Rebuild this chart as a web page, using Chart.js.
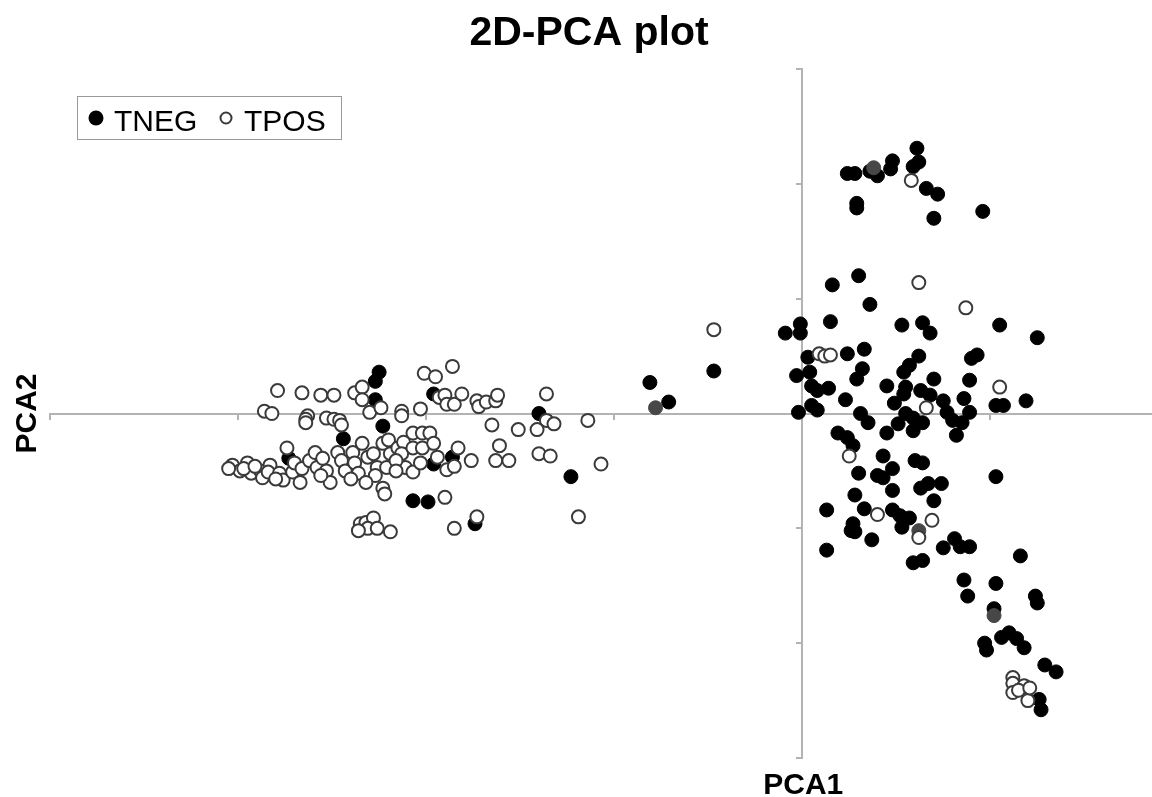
<!DOCTYPE html>
<html>
<head>
<meta charset="utf-8">
<title>2D-PCA plot</title>
<script src="https://cdn.jsdelivr.net/npm/chart.js@4/dist/chart.umd.min.js"></script>
<style>
  html, body { margin: 0; padding: 0; background: #fff; }
  #wrap { width: 1152px; height: 797px; }
</style>
</head>
<body>
<div id="wrap"><canvas id="pca" width="1152" height="797"></canvas></div>
<script>
// ====== DATA (PCA1, PCA2 scores) ======
const chartTitle = '2D-PCA plot';
const xLabel = 'PCA1';
const yLabel = 'PCA2';
const groupNames = ['TNEG', 'TPOS'];

const tneg = [
  // left group
  [-2.25,0.36],[-2.27,0.28],[-2.27,0.12],[-2.23,-0.11],[-2.44,-0.22],[-1.96,0.17],[-1.40,0.00],
  [-1.23,-0.55],[-2.07,-0.76],[-1.99,-0.77],[-1.74,-0.96],[-2.73,-0.39],[-1.96,-0.44],[-1.86,-0.38],
  [-0.81,0.27],[-0.71,0.10],[-0.47,0.37],
  // right group, around the axis
  [-0.09,0.70],[-0.01,0.78],[-0.01,0.70],[0.15,0.80],[0.36,0.95],[0.30,1.20],[0.16,1.12],[0.53,0.77],
  [0.64,0.79],[0.68,0.70],[1.05,0.77],[1.25,0.66],[0.03,0.49],[0.24,0.52],[0.33,0.56],[0.62,0.50],
  [0.90,0.48],[0.93,0.51],[-0.03,0.33],[0.04,0.36],[0.32,0.39],[0.29,0.30],[0.54,0.36],[0.57,0.42],
  [0.70,0.30],[0.89,0.29],[0.05,0.24],[0.08,0.20],[0.14,0.22],[0.23,0.12],[0.45,0.24],[0.55,0.23],
  [0.54,0.17],[0.63,0.20],[0.68,0.16],[0.75,0.11],[0.86,0.13],[0.49,0.09],[1.19,0.11],[1.03,0.07],
  [1.07,0.07],[-0.02,0.01],[0.05,0.07],[0.08,0.03],[0.31,0.00],[0.35,-0.08],[0.55,0.00],[0.51,-0.09],
  [0.59,-0.04],[0.64,-0.08],[0.59,-0.15],[0.77,0.01],[0.80,-0.06],[0.85,-0.08],[0.89,0.01],[0.19,-0.17],
  [0.24,-0.21],[0.27,-0.28],[0.45,-0.17],[0.82,-0.19],
  // top
  [0.61,2.31],[0.62,2.19],[0.59,2.15],[0.48,2.20],[0.47,2.13],[0.36,2.11],[0.40,2.07],[0.24,2.09],
  [0.28,2.09],[0.66,1.96],[0.72,1.91],[0.29,1.83],[0.29,1.79],[0.70,1.70],[0.96,1.76],
  // lower tail
  [0.43,-0.37],[0.60,-0.41],[0.64,-0.43],[0.30,-0.52],[0.40,-0.54],[0.43,-0.56],[0.48,-0.48],[1.03,-0.55],
  [0.28,-0.71],[0.48,-0.67],[0.63,-0.65],[0.67,-0.61],[0.74,-0.61],[0.70,-0.76],[0.13,-0.84],[0.33,-0.83],
  [0.48,-0.84],[0.52,-0.89],[0.57,-0.91],[0.27,-0.96],[0.26,-1.02],[0.28,-1.03],[0.53,-0.99],[0.37,-1.10],
  [0.13,-1.19],[0.59,-1.30],[0.64,-1.28],[0.75,-1.17],[0.81,-1.09],[0.84,-1.16],[0.89,-1.16],[1.16,-1.24],
  [0.86,-1.45],[0.88,-1.59],[1.03,-1.48],[1.02,-1.70],[1.24,-1.59],[1.25,-1.65],[0.97,-2.00],[0.98,-2.06],
  [1.06,-1.95],[1.10,-1.91],[1.14,-1.96],[1.18,-2.04],[1.29,-2.19],[1.35,-2.25],[1.26,-2.49],[1.27,-2.58]
];

// TNEG samples that show up as dark grey in the original
const tnegGrey = [[-0.78,0.05],[0.38,2.14],[0.62,-1.02],[1.02,-1.76]];

const tpos = [
  [-1.86,0.41],[-2.01,0.35],[-1.95,0.32],[-2.79,0.20],[-2.66,0.18],[-2.56,0.16],[-2.49,0.16],[-2.38,0.18],
  [-2.34,0.23],[-2.34,0.12],[-1.93,0.14],[-1.90,0.16],[-1.89,0.08],[-1.85,0.08],[-1.81,0.17],[-1.73,0.11],
  [-1.72,0.06],[-1.68,0.10],[-1.63,0.11],[-1.62,0.16],[-1.36,0.17],[-2.86,0.02],[-2.82,0.00],[-2.63,-0.02],
  [-2.64,-0.05],[-2.53,-0.04],[-2.49,-0.05],[-2.46,-0.06],[-2.45,-0.10],[-2.30,0.01],[-2.24,0.05],[-2.13,0.02],
  [-2.13,-0.02],[-2.03,0.04],[-1.36,-0.06],[-1.32,-0.09],[-1.41,-0.14],[-1.65,-0.10],[-1.51,-0.14],[-1.14,-0.06],
  [-1.61,-0.28],[-1.40,-0.35],[-1.34,-0.37],[-1.63,-0.41],[-1.56,-0.41],[-1.76,-0.41],[-1.07,-0.44],[-1.83,-0.30],
  [-1.89,-0.49],[-1.85,-0.46],[-1.90,-0.73],[-2.23,-0.65],[-2.22,-0.70],[-1.19,-0.90],[-1.73,-0.90],[-1.85,-1.00],
  [-2.35,-0.96],[-2.32,-0.95],[-2.28,-0.91],[-2.31,-1.00],[-2.26,-1.00],[-2.19,-1.03],[-2.36,-1.02],
  // dense band
  [-3.03,-0.45],[-2.99,-0.50],[-2.95,-0.43],[-2.93,-0.52],[-2.88,-0.50],[-2.87,-0.56],[-2.83,-0.45],[-2.84,-0.51],
  [-2.78,-0.52],[-2.76,-0.58],[-2.74,-0.30],[-2.71,-0.51],[-2.70,-0.43],[-2.67,-0.60],[-2.66,-0.48],[-2.62,-0.41],
  [-2.59,-0.34],[-2.58,-0.47],[-2.55,-0.39],[-2.53,-0.50],[-2.51,-0.60],[-2.47,-0.34],[-2.45,-0.41],[-2.43,-0.50],
  [-2.39,-0.34],[-2.38,-0.43],[-2.36,-0.52],[-2.34,-0.26],[-2.31,-0.38],[-2.28,-0.35],[-2.26,-0.47],[-2.23,-0.26],
  [-2.19,-0.35],[-2.21,-0.47],[-2.20,-0.23],[-2.15,-0.30],[-2.12,-0.25],[-2.13,-0.35],[-2.11,-0.47],[-2.07,-0.51],
  [-2.07,-0.17],[-2.02,-0.17],[-1.98,-0.17],[-2.07,-0.30],[-2.02,-0.30],[-1.96,-0.26],[-1.94,-0.38],[-2.03,-0.43],
  [-2.64,-0.08],[-3.05,-0.48],[-2.97,-0.48],[-2.16,-0.41],[-2.40,-0.57],[-2.56,-0.54],[-2.80,-0.57],[-2.91,-0.46],
  [-2.27,-0.54],[-2.16,-0.50],[-2.32,-0.60],
  // middle and right
  [-0.47,0.73],[0.58,2.03],[0.62,1.14],[0.87,0.92],[0.09,0.52],[0.12,0.50],[0.15,0.51],[1.05,0.23],
  [0.66,0.05],[0.25,-0.37],[0.40,-0.88],[0.69,-0.93],[0.62,-1.08],
  [1.12,-2.30],[1.12,-2.35],[1.18,-2.37],[1.12,-2.43],[1.15,-2.41],[1.20,-2.50],[1.21,-2.39]
];

// axis extent (no tick labels in the original)
const xRange = [-4, 1.86];
const yRange = [-3, 3];

// ====== STYLE ======
const FONT = '"Liberation Sans", Arial, Helvetica, sans-serif';
const AXIS_GREY = '#b3b3b3';

function toPts(arr){ return arr.map(p => ({ x: p[0], y: p[1] })); }

// title, centred axis names and the boxed legend
const decorPlugin = {
  id: 'decor',
  afterDraw(chart) {
    const ctx = chart.ctx;
    const xs = chart.scales.x, ys = chart.scales.y;
    ctx.save();
    ctx.fillStyle = '#000';

    // title
    ctx.font = 'bold 41px ' + FONT;
    ctx.textAlign = 'center';
    ctx.textBaseline = 'alphabetic';
    ctx.fillText(chartTitle, 589, 45);

    // PCA1 under the vertical axis
    ctx.font = 'bold 30px ' + FONT;
    ctx.fillText(xLabel, xs.getPixelForValue(0) + 1, 794);

    // PCA2 left of the horizontal axis, rotated
    ctx.save();
    ctx.translate(36, ys.getPixelForValue(0));
    ctx.rotate(-Math.PI / 2);
    ctx.fillText(yLabel, 0, 0);
    ctx.restore();

    // legend box
    const neg = chart.data.datasets[1], pos = chart.data.datasets[0];
    ctx.strokeStyle = '#999';
    ctx.lineWidth = 1;
    ctx.strokeRect(77.5, 96.5, 264, 43);

    ctx.beginPath();
    ctx.arc(96, 118, 7.5, 0, Math.PI * 2);
    ctx.fillStyle = neg.backgroundColor;
    ctx.fill();

    ctx.beginPath();
    ctx.arc(226, 118, 5.5, 0, Math.PI * 2);
    ctx.fillStyle = pos.backgroundColor;
    ctx.fill();
    ctx.lineWidth = 2;
    ctx.strokeStyle = pos.borderColor;
    ctx.stroke();

    ctx.fillStyle = '#000';
    ctx.font = '30px ' + FONT;
    ctx.textAlign = 'left';
    ctx.fillText(groupNames[0], 114, 131);
    ctx.fillText(groupNames[1], 244, 131);
    ctx.restore();
  }
};

function keepWholeTicks(scale){
  scale.ticks = scale.ticks.filter(t => Number.isInteger(Math.round(t.value * 1000) / 1000));
}

const axisCommon = {
  type: 'linear',
  ticks: { display: false, stepSize: 1 },
  grid: { drawOnChartArea: false, drawTicks: true, tickLength: 5, color: AXIS_GREY, lineWidth: 2 },
  border: { display: true, color: AXIS_GREY, width: 2 },
  title: { display: false },
  afterBuildTicks: keepWholeTicks
};

new Chart(document.getElementById('pca').getContext('2d'), {
  type: 'scatter',
  data: {
    datasets: [
      {
        label: groupNames[1],
        data: toPts(tpos),
        backgroundColor: '#ffffff',
        borderColor: '#3a3a3a',
        borderWidth: 2,
        pointRadius: 6.5,
        order: 0
      },
      {
        label: groupNames[0],
        data: toPts(tneg),
        backgroundColor: '#000000',
        borderColor: '#000000',
        borderWidth: 1,
        pointRadius: 7,
        order: 2
      },
      {
        label: groupNames[0] + ' (grey)',
        data: toPts(tnegGrey),
        backgroundColor: '#474747',
        borderColor: '#474747',
        borderWidth: 1,
        pointRadius: 7,
        order: 1
      }
    ]
  },
  options: {
    responsive: false,
    animation: false,
    devicePixelRatio: 1,
    layout: { autoPadding: false, padding: { left: 50, right: 0, top: 69, bottom: 39 } },
    plugins: {
      legend: { display: false },
      title: { display: false },
      tooltip: { enabled: false }
    },
    scales: {
      x: Object.assign({}, axisCommon, { min: xRange[0], max: xRange[1], position: { y: 0 } }),
      y: Object.assign({}, axisCommon, { min: yRange[0], max: yRange[1], position: { x: 0 } })
    }
  },
  plugins: [decorPlugin]
});
</script>
</body>
</html>
